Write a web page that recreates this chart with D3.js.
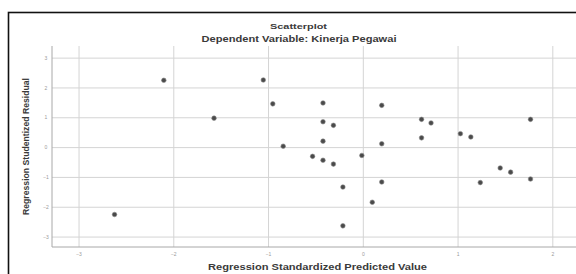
<!DOCTYPE html>
<html>
<head>
<meta charset="utf-8">
<script src="https://cdn.jsdelivr.net/npm/d3@7"></script>
<style>
  body { margin:0; background:#fff; }
  svg { display:block; font-family:"Liberation Sans", Arial, sans-serif; }
  .grid line { stroke:#d4d4d4; stroke-width:1; }
  .grid path { display:none; }
  .tick text { fill:#9a9a9a; font-size:5px; }
</style>
</head>
<body>
<svg id="chart" width="576" height="274"></svg>
<script>
"use strict";
// predicted values (x) and studentized residuals (y)
var predicted = [-2.62,-2.10,-1.57,-1.05,-0.95,-0.84,-0.53,-0.42,-0.42,-0.42,-0.42,-0.31,-0.31,-0.21,-0.21,
                 -0.01,0.10,0.20,0.20,0.20,0.62,0.62,0.72,1.03,1.14,1.24,1.45,1.56,1.77,1.77];
var residual  = [-2.26,2.24,0.97,2.25,1.45,0.03,-0.31,1.48,0.85,0.20,-0.44,0.73,-0.57,-1.34,-2.64,
                 -0.28,-1.85,1.40,0.11,-1.17,0.93,0.31,0.81,0.45,0.34,-1.19,-0.70,-0.84,0.93,-1.07];
var xTicks = [-3,-2,-1,0,1,2];
var yTicks = [-3,-2,-1,0,1,2,3];

var svg = d3.select('#chart');

// outer frame, runs off the right/bottom like the screenshot
svg.append('rect')
  .attr('x',8.5).attr('y',12.5).attr('width',620).attr('height',300)
  .attr('fill','none').attr('stroke','#111').attr('stroke-width',1.6);

let plotL = 52, plotR = 576, plotT = 46, plotB = 247;

var x = d3.scaleLinear().domain([-3.28, 2.25]).range([plotL, plotR]);
var y = d3.scaleLinear().domain([-3.35, 3.39]).range([plotB, plotT]);

// horizontal gridlines + y tick labels
var yAxis = svg.append('g')
  .attr('class','grid')
  .attr('transform','translate(' + plotL + ',0)')
  .call(d3.axisLeft(y).tickValues(yTicks).tickSize(-(plotR-plotL)).tickPadding(4).tickFormat(d3.format('d')));
yAxis.selectAll('.tick text').attr('x',-6).style('text-anchor','middle');

// vertical gridlines + x tick labels
var xAxis = svg.append('g')
  .attr('class','grid')
  .attr('transform','translate(0,' + plotB + ')')
  .call(d3.axisBottom(x).tickValues(xTicks).tickSize(-(plotB-plotT)).tickPadding(5).tickFormat(d3.format('d')));

// axis lines
svg.append('line').attr('x1',plotL).attr('x2',plotL).attr('y1',plotT).attr('y2',plotB)
  .attr('stroke','#a8a8a8').attr('stroke-width',1);
svg.append('line').attr('x1',plotL).attr('x2',plotR).attr('y1',plotB).attr('y2',plotB)
  .attr('stroke','#a8a8a8').attr('stroke-width',1);

// points
svg.selectAll('circle.pt')
  .data(predicted)
  .enter()
  .append('circle')
  .attr('class','pt')
  .attr('cx', function(d){ return x(d); })
  .attr('cy', function(d,i){ return y(residual[i]); })
  .attr('r',2.3)
  .attr('fill','#4a4a4a')
  .attr('stroke','#8a8a8a')
  .attr('stroke-width',0.6);

// titles (stretched a bit, the screenshot is wider than the font)
function label(tx, ty, size, len, str, rot) {
  var t = svg.append('text')
    .attr('text-anchor','middle')
    .attr('font-size',size).attr('font-weight','bold').attr('fill','#3a3a3a')
    .attr('textLength',len).attr('lengthAdjust','spacingAndGlyphs')
    .text(str);
  if (rot) t.attr('transform','translate(' + tx + ',' + ty + ') rotate(-90)');
  else t.attr('x',tx).attr('y',ty);
  return t;
}
label(298.5, 28.5, 8, 57, 'Scatterplot');
label(299, 42, 8.5, 195, 'Dependent Variable: Kinerja Pegawai');
label(317.5, 270, 9, 219, 'Regression Standardized Predicted Value');
label(29, 146.5, 8.5, 137, 'Regression Studentized Residual', true);
</script>
</body>
</html>
